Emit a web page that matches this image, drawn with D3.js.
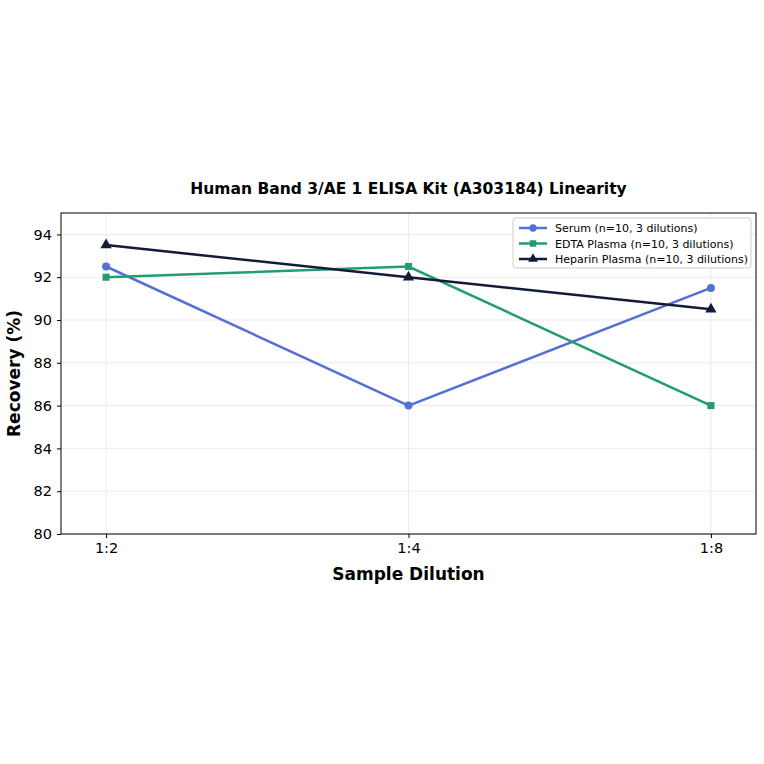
<!DOCTYPE html>
<html><head><meta charset="utf-8">
<script src="https://cdn.jsdelivr.net/npm/d3@7/dist/d3.min.js"></script>
<style>body{margin:0;background:#fff;font-family:"DejaVu Sans",sans-serif}</style>
</head><body><svg id="c" width="764" height="764"></svg>
<script>
const categories = ["1:2","1:4","1:8"];
const serum = [92.5, 86.0, 91.5];
const edta = [92.0, 92.5, 86.0];
const heparin = [93.5, 92.0, 90.5];
const yTicks = [80,82,84,86,88,90,92,94];
const seriesNames = ["Serum (n=10, 3 dilutions)","EDTA Plasma (n=10, 3 dilutions)","Heparin Plasma (n=10, 3 dilutions)"];
const colors = ["#5470d6","#239b73","#131a3a"];
const shapes = [d3.symbolCircle, d3.symbolSquare, d3.symbolTriangle];

const svg = d3.select("#c");
const L=61,R=756,T=213,B=534;
const x = d3.scalePoint().domain(categories).range([L,R]).padding(0.149);
const y = d3.scaleLinear().domain([80,95]).range([B,T]);

const g = svg.append("g");
g.selectAll(".gy").data(yTicks).join("line").attr("x1",L).attr("x2",R)
 .attr("y1",d=>y(d)).attr("y2",d=>y(d)).attr("stroke","#e6e6e6").attr("stroke-width",0.8);
g.selectAll(".gx").data(categories).join("line").attr("y1",T).attr("y2",B)
 .attr("x1",d=>x(d)).attr("x2",d=>x(d)).attr("stroke","#e6e6e6").attr("stroke-width",0.8);

const ax = svg.append("g").attr("transform",`translate(0,${B})`).call(d3.axisBottom(x).tickSize(4).tickPadding(5));
const ay = svg.append("g").attr("transform",`translate(${L},0)`).call(d3.axisLeft(y).tickValues(yTicks).tickSize(4).tickPadding(5));
[ax,ay].forEach(a=>{a.select(".domain").remove();a.selectAll("text").attr("font-size",14.5).attr("fill","#000").attr("font-family","DejaVu Sans");a.selectAll("line").attr("stroke","#000");});
svg.append("rect").attr("x",L).attr("y",T).attr("width",R-L).attr("height",B-T).attr("fill","none").attr("stroke","#000").attr("stroke-width",1);

const data=[serum,edta,heparin];
data.forEach((vals,i)=>{
  svg.append("path").datum(vals).attr("fill","none").attr("stroke",colors[i]).attr("stroke-width",2.5)
   .attr("d",d3.line().x((d,j)=>x(categories[j])).y(d=>y(d)));
  svg.selectAll(null).data(vals).join("path")
   .attr("transform",(d,j)=>`translate(${x(categories[j])},${y(d)})`)
   .attr("d",d3.symbol().type(shapes[i]).size(i==2?55:50)).attr("fill",colors[i]);
});

svg.append("text").attr("x",(L+R)/2).attr("y",194).attr("text-anchor","middle").attr("font-weight","bold").attr("font-size",15.5).text("Human Band 3/AE 1 ELISA Kit (A303184) Linearity");
svg.append("text").attr("x",(L+R)/2).attr("y",580).attr("text-anchor","middle").attr("font-weight","bold").attr("font-size",17).text("Sample Dilution");
svg.append("text").attr("transform",`translate(20,${(T+B)/2}) rotate(-90)`).attr("text-anchor","middle").attr("font-weight","bold").attr("font-size",17).text("Recovery (%)");

const lg = svg.append("g");
lg.append("rect").attr("x",513).attr("y",218).attr("width",238).attr("height",50).attr("fill","#fff").attr("stroke","#ccc").attr("rx",3);
seriesNames.forEach((n,i)=>{
  const yy=228+i*15.5;
  lg.append("line").attr("x1",519).attr("x2",547).attr("y1",yy).attr("y2",yy).attr("stroke",colors[i]).attr("stroke-width",2.5);
  lg.append("path").attr("transform",`translate(533,${yy})`).attr("d",d3.symbol().type(shapes[i]).size(42)).attr("fill",colors[i]);
  lg.append("text").attr("x",555).attr("y",yy+4).attr("font-size",11).text(n);
});
</script></body></html>
